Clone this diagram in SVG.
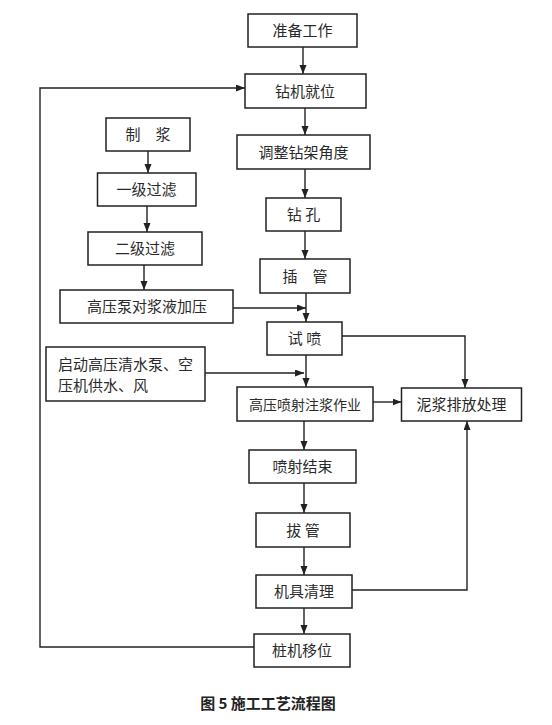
<svg xmlns="http://www.w3.org/2000/svg" width="552" height="725" viewBox="0 0 552 725">
<style>
.box{fill:#fff;stroke:#222;stroke-width:1.5}
.t{font-family:"Noto Sans CJK SC","Liberation Serif",serif;font-size:15px;fill:#2a2a2a;text-anchor:middle}
.c{fill:none;stroke:#222;stroke-width:1.4}
.cap{font-family:"Noto Sans CJK SC","Liberation Sans",sans-serif;font-size:15px;font-weight:bold;fill:#222;text-anchor:middle}
</style>
<defs>
<marker id="ah" markerUnits="userSpaceOnUse" markerWidth="10" markerHeight="8" refX="9" refY="3.5" orient="auto">
<path d="M0,0 L9,3.5 L0,7 z" fill="#222"/>
</marker>
</defs>
<rect width="552" height="725" fill="#fff"/>
<g id="connectors">
<line class="c" x1="303" y1="47" x2="303" y2="74" marker-end="url(#ah)"/>
<line class="c" x1="305" y1="108" x2="305" y2="135" marker-end="url(#ah)"/>
<line class="c" x1="305" y1="169" x2="305" y2="198" marker-end="url(#ah)"/>
<line class="c" x1="305" y1="231" x2="305" y2="259" marker-end="url(#ah)"/>
<line class="c" x1="306" y1="293" x2="306" y2="322" marker-end="url(#ah)"/>
<line class="c" x1="233" y1="308" x2="306" y2="308" marker-end="url(#ah)"/>
<line class="c" x1="306" y1="355" x2="306" y2="387" marker-end="url(#ah)"/>
<line class="c" x1="205" y1="373" x2="304" y2="373" marker-end="url(#ah)"/>
<polyline class="c" points="342,336 465,336 465,388" marker-end="url(#ah)"/>
<line class="c" x1="373" y1="402" x2="401.5" y2="402" marker-end="url(#ah)"/>
<line class="c" x1="304" y1="421" x2="304" y2="450" marker-end="url(#ah)"/>
<line class="c" x1="304" y1="483" x2="304" y2="513" marker-end="url(#ah)"/>
<line class="c" x1="304" y1="547" x2="304" y2="575" marker-end="url(#ah)"/>
<polyline class="c" points="352,590 467,590 467,421" marker-end="url(#ah)"/>
<line class="c" x1="304" y1="608" x2="304" y2="634" marker-end="url(#ah)"/>
<polyline class="c" points="254,647 40,647 40,88 245,88" marker-end="url(#ah)"/>
<line class="c" x1="148" y1="151" x2="148" y2="173" marker-end="url(#ah)"/>
<line class="c" x1="147" y1="206" x2="147" y2="232" marker-end="url(#ah)"/>
<line class="c" x1="144" y1="265" x2="144" y2="290" marker-end="url(#ah)"/>
</g>
<g id="n1"><rect class="box" x="248" y="14" width="109" height="33"/><text class="t" x="302.5" y="36">准备工作</text></g>
<g id="n2"><rect class="box" x="245" y="74" width="121" height="34"/><text class="t" x="305" y="96.5">钻机就位</text></g>
<g id="n3"><rect class="box" x="106" y="118" width="84" height="33"/><text class="t" x="148" y="140" xml:space="preserve">制　浆</text></g>
<g id="n4"><rect class="box" x="237" y="135" width="133" height="34"/><text class="t" x="303.5" y="157.5">调整钻架角度</text></g>
<g id="n5"><rect class="box" x="97.5" y="173" width="98.5" height="33"/><text class="t" x="146.5" y="195">一级过滤</text></g>
<g id="n6"><rect class="box" x="266" y="198" width="75" height="33"/><text class="t" x="303.5" y="220">钻 孔</text></g>
<g id="n7"><rect class="box" x="88" y="232" width="114" height="33"/><text class="t" x="145" y="254">二级过滤</text></g>
<g id="n8"><rect class="box" x="260" y="259" width="90" height="34"/><text class="t" x="305" y="281.5">插　管</text></g>
<g id="n9"><rect class="box" x="60" y="290" width="173" height="33"/><text class="t" x="147" y="312">高压泵对浆液加压</text></g>
<g id="n10"><rect class="box" x="267" y="322" width="75" height="33"/><text class="t" x="304.5" y="344">试 喷</text></g>
<g id="n11"><rect class="box" x="46" y="347" width="159" height="54"/><text class="t" x="58" y="370" text-anchor="start" style="text-anchor:start">启动高压清水泵、空</text><text class="t" x="58" y="391" style="text-anchor:start">压机供水、风</text></g>
<g id="n12"><rect class="box" x="237" y="387" width="136" height="34"/><text class="t" x="305" y="409.5" style="font-size:14px">高压喷射注浆作业</text></g>
<g id="n13"><rect class="box" x="401.5" y="388" width="120" height="33"/><text class="t" x="461.5" y="410">泥浆排放处理</text></g>
<g id="n14"><rect class="box" x="249" y="450" width="107" height="33"/><text class="t" x="302.5" y="472">喷射结束</text></g>
<g id="n15"><rect class="box" x="256" y="513" width="94" height="34"/><text class="t" x="303" y="535.5">拔 管</text></g>
<g id="n16"><rect class="box" x="256" y="575" width="96" height="33"/><text class="t" x="304" y="597">机具清理</text></g>
<g id="n17"><rect class="box" x="254" y="634" width="96" height="33"/><text class="t" x="302" y="656">桩机移位</text></g>
<text class="cap" x="268" y="708.5">图 5  施工工艺流程图</text>
</svg>
